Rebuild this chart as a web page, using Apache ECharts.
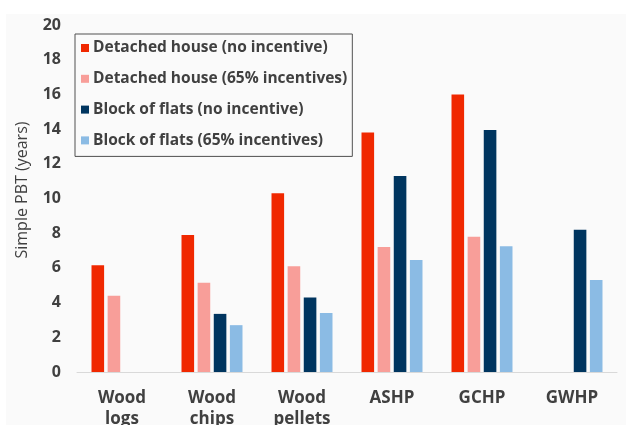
<!DOCTYPE html>
<html>
<head>
<meta charset="utf-8">
<script src="https://cdn.jsdelivr.net/npm/echarts@6/dist/echarts.min.js"></script>
<style>
  html, body { margin: 0; padding: 0; background: #ffffff; }
  #panel { position: absolute; left: 6px; top: 14px; width: 620px; height: 411px; background: #fafafa; }
  #chart { position: absolute; left: 0; top: 0; width: 626px; height: 425px; }
</style>
</head>
<body>
<div id="panel"></div>
<div id="chart"></div>
<script>
const categories = ['Wood\nlogs', 'Wood\nchips', 'Wood\npellets', 'ASHP', 'GCHP', 'GWHP'];
const detachedNoIncentive = [6.15, 7.9, 10.3, 13.8, 16.0, null];
const detached65 = [4.4, 5.15, 6.1, 7.2, 7.8, null];
const flatsNoIncentive = [null, 3.35, 4.3, 11.3, 13.95, 8.2];
const flats65 = [null, 2.7, 3.4, 6.45, 7.25, 5.3];
const yTicks = { min: 0, max: 20, interval: 2 };
const yAxisTitle = 'Simple PBT (years)';

const seriesNames = [
  'Detached house (no incentive)',
  'Detached house (65% incentives)',
  'Block of flats (no incentive)',
  'Block of flats (65% incentives)'
];
const seriesColors = ['#f02800', '#f89e99', '#00355f', '#8bbbe4'];
const seriesData = [detachedNoIncentive, detached65, flatsNoIncentive, flats65];

const chart = echarts.init(document.getElementById('chart'), null, { renderer: 'canvas' });
const font = '"Open Sans", Lato, sans-serif';

chart.setOption({
  backgroundColor: 'transparent',
  animation: false,
  grid: { left: 77, right: 9, top: 25, bottom: 53, containLabel: false, outerBoundsMode: 'none' },
  graphic: [{
    type: 'text',
    x: 22,
    y: 190,
    rotation: Math.PI / 2,
    style: {
      text: yAxisTitle,
      fontFamily: font,
      fontSize: 16,
      fill: '#404040',
      align: 'center',
      verticalAlign: 'middle'
    }
  }],
  legend: {
    orient: 'vertical',
    left: 75,
    top: 34,
    padding: [6, 5, 8, 6],
    borderColor: '#505050',
    borderWidth: 1,
    backgroundColor: '#fafafa',
    icon: 'rect',
    itemWidth: 8,
    itemHeight: 8,
    itemGap: 14.8,
    data: seriesNames,
    textStyle: { fontFamily: font, fontSize: 15.5, fontWeight: 'bold', color: '#404040', lineHeight: 16, padding: [0, 0, 0, -1] }
  },
  xAxis: {
    type: 'category',
    data: categories,
    axisLine: { show: true, lineStyle: { color: '#d9d9d9', width: 1 } },
    axisTick: { show: false },
    axisLabel: { fontFamily: font, fontSize: 17, fontWeight: 'bold', color: '#404040', margin: 16, lineHeight: 21, interval: 0 }
  },
  yAxis: {
    type: 'value',
    min: yTicks.min,
    max: yTicks.max,
    interval: yTicks.interval,
    axisLine: { show: false },
    axisTick: { show: false },
    splitLine: { show: false },
    axisLabel: { fontFamily: font, fontSize: 16, fontWeight: 'bold', color: '#404040', margin: 16 }
  },
  series: seriesNames.map((n, i) => ({
    name: n,
    type: 'bar',
    data: seriesData[i],
    barWidth: 12.6,
    barGap: '28%',
    itemStyle: { color: seriesColors[i] }
  }))
});
</script>
</body>
</html>
